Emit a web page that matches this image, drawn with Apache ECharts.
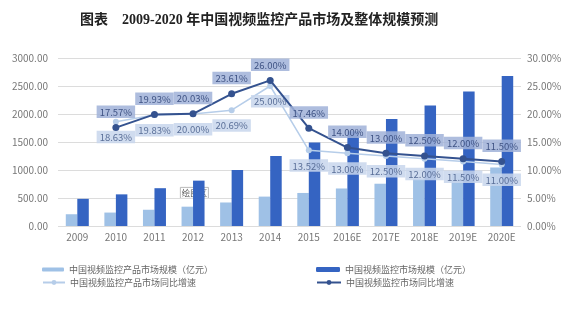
<!DOCTYPE html>
<html><head><meta charset="utf-8">
<script src="https://cdn.jsdelivr.net/npm/echarts@6/dist/echarts.min.js"></script>
<style>html,body{margin:0;padding:0;background:#fff}#c{width:575px;height:310px}</style>
</head><body><div id="c"></div>
<script>
var categories = ['2009','2010','2011','2012','2013','2014','2015','2016E','2017E','2018E','2019E','2020E'];
var productScale = [210, 240, 290, 345, 420, 525, 590, 670, 755, 845, 940, 1045];
var marketScale = [485, 565, 675, 810, 1000, 1250, 1490, 1690, 1910, 2150, 2400, 2680];
var productGrowth = [null, 18.63, 19.83, 20.00, 20.69, 25.00, 13.52, 13.00, 12.50, 12.00, 11.50, 11.00];
var marketGrowth = [null, 17.57, 19.93, 20.03, 23.61, 26.00, 17.46, 14.00, 13.00, 12.50, 12.00, 11.50];
var leftTicks = [0, 500, 1000, 1500, 2000, 2500, 3000];
var rightTicks = [0, 5, 10, 15, 20, 25, 30];
var names = ['中国视频监控产品市场规模（亿元）','中国视频监控市场规模（亿元）','中国视频监控产品市场同比增速','中国视频监控市场同比增速'];

var FONT = '"Noto Sans CJK SC", "Noto Sans", sans-serif';
var chart = echarts.init(document.getElementById('c'), null, {renderer:'canvas'});
function legend(name, left, top, w, h){
  return {data:[name], left:left, top:top, itemWidth:w, itemHeight:h, itemGap:4,
    textStyle:{fontSize:9, color:'#666', fontFamily:FONT}, selectedMode:false};
}
chart.setOption({
  animation:false,
  backgroundColor:'#fff',
  title:{text:'图表　2009-2020 年中国视频监控产品市场及整体规模预测', left:75, top:8,
    textStyle:{fontSize:14, fontWeight:'bold', color:'#222', fontFamily:'"Liberation Serif", "Noto Sans CJK SC", serif'}},
  grid:{left:58, right:54, top:58, bottom:84},
  legend:[
    legend(names[0], 37, 260, 22, 4),
    legend(names[1], 311, 260, 24, 5),
    legend(names[2], 37, 273, 22, 6),
    legend(names[3], 311, 273, 24, 6)
  ],
  xAxis:{type:'category', data:categories,
    axisLine:{show:false}, axisTick:{show:false},
    axisLabel:{fontSize:10, color:'#777', margin:6, fontFamily:FONT, interval:0}},
  yAxis:[
    {type:'value', min:leftTicks[0], max:leftTicks[leftTicks.length-1], interval:500,
     axisLabel:{fontSize:10, color:'#777', margin:10, fontFamily:FONT, formatter:function(v){return v.toFixed(2);}},
     splitLine:{lineStyle:{color:'#dcdcdc', width:1}}, axisLine:{show:false}, axisTick:{show:false}},
    {type:'value', min:rightTicks[0], max:rightTicks[rightTicks.length-1], interval:5,
     axisLabel:{fontSize:10, color:'#777', margin:6, fontFamily:FONT, formatter:function(v){return v.toFixed(2)+'%';}},
     splitLine:{show:false}, axisLine:{show:false}, axisTick:{show:false}}
  ],
  series:[
    {name:names[0], type:'bar', data:productScale, barWidth:11.5, barGap:'0%', itemStyle:{color:'#9fc1e6'}},
    {name:names[1], type:'bar', data:marketScale, barWidth:11.5, barGap:'0%', itemStyle:{color:'#3564c2'}},
    {name:names[2], type:'line', yAxisIndex:1, data:productGrowth, z:5,
     symbol:'circle', symbolSize:6, lineStyle:{color:'#b6cde9', width:1.5}, itemStyle:{color:'#b6cde9'},
     label:{show:true, position:'bottom', distance:6, fontSize:9.5, color:'#5a6f98', fontFamily:FONT,
       backgroundColor:'rgba(200,214,236,0.85)', padding:[2,3,1,3],
       formatter:function(p){return p.value.toFixed(2)+'%';}}},
    {name:names[3], type:'line', yAxisIndex:1, data:marketGrowth, z:6,
     symbol:'circle', symbolSize:7, lineStyle:{color:'#34528f', width:2}, itemStyle:{color:'#34528f'},
     label:{show:true, position:'top', distance:6, fontSize:9.5, color:'#3f5384', fontFamily:FONT,
       backgroundColor:'rgba(160,178,216,0.85)', padding:[2,3,1,3],
       formatter:function(p){return p.value.toFixed(2)+'%';}}}
  ],
  graphic:[{type:'group', left:180, top:187, z:100, children:[
    {type:'rect', shape:{x:0,y:0,width:28,height:11}, style:{fill:'#fff', stroke:'#aaa', lineWidth:0.8}},
    {type:'text', x:14, y:5.5, style:{text:'绘图区', fontSize:8.5, fill:'#555', align:'center', verticalAlign:'middle', fontFamily:FONT}}
  ]}]
});
</script></body></html>
